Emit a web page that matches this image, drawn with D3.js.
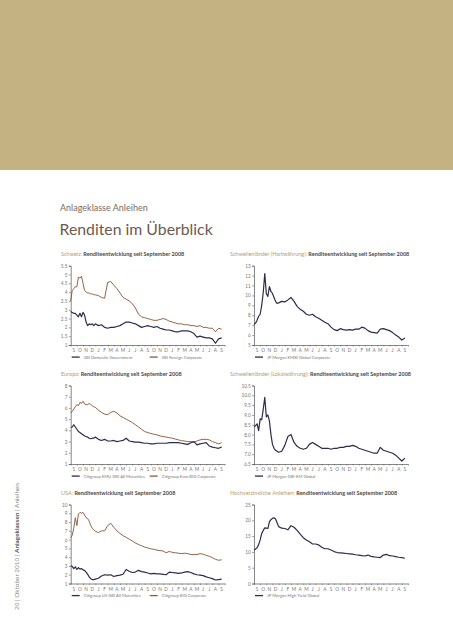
<!DOCTYPE html>
<html><head><meta charset="utf-8">
<script src="https://cdn.jsdelivr.net/npm/d3@7"></script>
<style>html,body{margin:0;padding:0;background:#fff;}svg{display:block;font-family:Lato,"Open Sans",sans-serif;}</style>
</head><body>
<script>
// ---- DATA ----
// time in months since start of September 2008
const tMonths = [0,0.25,0.5,0.75,1,1.25,1.5,1.75,2,2.25,2.5,2.75,3,3.25,3.5,3.75,
  4,4.5,5,5.5,6,6.5,7,7.5,8,8.5,9,9.5,10,10.5,11,11.5,12,12.5,13,13.5,14,14.5,15,15.5,16,16.5,17,17.5,18,18.5,19,19.5,20,20.5,21,21.5,22,22.5,23,23.5,24,24.5];
const monthLabels = ["S","O","N","D","J","F","M","A","M","J","J","A","S","O","N","D","J","F","M","A","M","J","J","A","S"];

const chTitles = [
  ["Schweiz:", " Renditeentwicklung seit September 2008"],
  ["Schwellenländer (Hartwährung):", " Renditeentwicklung seit September 2008"],
  ["Europa:", " Renditeentwicklung seit September 2008"],
  ["Schwellenländer (Lokalwährung):", " Renditeentwicklung seit September 2008"],
  ["USA:", " Renditeentwicklung seit September 2008"],
  ["Hochverzinsliche Anleihen:", " Renditeentwicklung seit September 2008"]
];

// Schweiz
const sbiDomesticGov = [2.9,2.85,2.8,2.8,2.7,2.6,2.8,2.6,2.85,2.7,2.3,2.1,2.2,2.15,2.2,2.1,
  2.2,2.1,2.15,2.0,1.95,2.0,2.0,2.05,2.1,2.2,2.3,2.3,2.25,2.2,2.1,2.0,2.05,2.1,2.05,2.0,2.05,1.95,1.9,1.85,1.85,1.8,1.75,1.75,1.8,1.8,1.8,1.75,1.65,1.45,1.5,1.45,1.4,1.4,1.35,1.1,1.35,1.4];
const sbiForeignCorp = [3.5,4.1,4.2,4.3,4.3,4.85,4.8,4.9,4.5,4.1,4.0,3.95,3.95,3.9,3.9,3.85,
  3.85,3.8,3.7,3.65,4.55,4.6,4.4,4.2,3.95,3.7,3.6,3.5,3.35,3.1,2.75,2.6,2.55,2.5,2.45,2.4,2.4,2.45,2.5,2.45,2.35,2.3,2.25,2.2,2.2,2.15,2.15,2.1,2.1,2.05,2.1,2.0,2.0,1.95,1.95,1.75,1.95,1.9];
const ticksSchweiz = [1,1.5,2,2.5,3,3.5,4,4.5,5,5.5];
const legendSchweiz = ["SBI Domestic Government","SBI Foreign Corporate"];

// Schwellenländer Hartwährung
const embiGlobalCorp = [7.05,7.2,7.5,7.9,8.1,9.0,10.3,12.2,10.2,9.9,10.9,10.4,10.2,9.8,9.4,9.2,
  9.25,9.4,9.35,9.55,9.8,9.4,8.9,8.6,8.4,8.1,8.0,8.1,7.85,7.7,7.5,7.3,7.15,6.8,6.55,6.45,6.65,6.55,6.5,6.55,6.5,6.6,6.6,6.8,6.7,6.45,6.3,6.25,6.2,6.6,6.65,6.55,6.45,6.25,6.0,5.8,5.5,5.7];
const ticksHart = [5,6,7,8,9,10,11,12,13];
const legendHart = ["JP Morgan EMBI Global Corporate"];

// Europa
const emuGbiAll = [4.25,4.3,4.5,4.3,4.1,3.9,3.8,3.7,3.6,3.5,3.45,3.4,3.3,3.25,3.3,3.3,
  3.4,3.2,3.1,3.2,3.05,3.05,3.1,3.0,3.05,3.1,3.3,3.05,3.0,2.95,2.95,2.9,2.85,2.85,2.8,2.8,2.85,2.85,2.85,2.85,2.9,2.9,2.9,2.9,2.85,2.8,2.75,2.9,3.0,2.7,2.8,2.85,2.9,2.6,2.5,2.45,2.4,2.5];
const euroBigCorp = [5.55,5.7,5.9,6.1,6.3,6.2,6.5,6.4,6.6,6.35,6.3,6.3,6.4,6.3,6.2,6.1,
  6.05,5.8,5.6,5.45,5.4,5.6,5.7,5.55,5.3,5.15,5.0,4.85,4.7,4.5,4.3,4.1,3.9,3.8,3.72,3.65,3.6,3.5,3.45,3.4,3.35,3.3,3.22,3.15,3.08,3.05,3.0,3.0,2.95,3.05,3.15,3.2,3.2,3.15,3.0,2.9,2.8,2.9];
const ticksEuropa = [1,2,3,4,5,6,7,8];
const legendEuropa = ["Citigroup EMU GBI All Maturities","Citigroup Euro BIG Corporate"];

// Schwellenländer Lokalwährung
const gbiEmGlobal = [8.4,8.45,8.55,8.2,8.8,8.75,9.3,9.9,8.9,9.0,8.7,8.0,7.5,7.3,7.2,7.15,
  7.1,7.15,7.45,7.9,8.0,7.6,7.4,7.3,7.25,7.3,7.5,7.6,7.5,7.4,7.3,7.3,7.3,7.25,7.3,7.3,7.35,7.35,7.4,7.4,7.45,7.4,7.3,7.25,7.2,7.15,7.1,7.05,7.05,7.35,7.2,7.15,7.1,7.05,6.95,6.8,6.65,6.8];
const ticksLokal = [6.5,7.0,7.5,8.0,8.5,9.0,9.5,10.0,10.5];
const legendLokal = ["JP Morgan GBI-EM Global"];

// USA
const usGbiAll = [3.0,2.95,2.7,2.9,2.6,2.8,2.65,2.7,2.55,2.5,2.3,2.05,1.75,1.55,1.45,1.45,
  1.5,1.6,1.85,2.0,1.95,2.0,1.8,1.9,1.95,2.05,2.6,2.4,2.25,2.3,2.5,2.35,2.3,2.2,2.1,2.15,2.1,2.1,2.05,2.0,2.3,2.25,2.2,2.15,2.2,2.3,2.35,2.25,2.1,2.0,1.95,1.9,1.75,1.65,1.55,1.4,1.45,1.5];
const usBigCorp = [6.2,6.5,7.3,8.5,7.6,8.9,9.1,9.0,9.1,8.8,8.5,8.4,8.1,7.6,7.3,7.1,
  6.95,6.8,7.0,7.0,7.6,7.85,7.4,7.0,6.7,6.45,6.25,6.05,5.85,5.6,5.45,5.3,5.15,5.05,4.95,4.9,4.8,4.75,4.7,4.5,4.65,4.55,4.5,4.45,4.4,4.45,4.4,4.3,4.3,4.3,4.4,4.35,4.2,4.1,3.95,3.75,3.65,3.7];
const ticksUSA = [1,2,3,4,5,6,7,8,9,10];
const legendUSA = ["Citigroup US GBI All Maturities","Citigroup BIG Corporate"];

// Hochverzinsliche Anleihen
const highYieldGlobal = [10.5,10.9,11.3,12.3,13.8,15.8,16.8,17.6,17.5,17.4,19.5,20.2,20.6,20.8,20.4,19.2,
  18.0,17.5,17.4,17.0,18.3,17.8,16.8,15.6,14.5,13.8,13.2,12.5,12.5,12.2,11.5,11.0,11.0,10.6,10.1,9.8,9.7,9.6,9.5,9.4,9.3,9.1,9.0,8.8,8.7,9.0,8.6,8.4,8.3,8.2,9.0,9.2,8.8,8.7,8.5,8.3,8.2,8.0];
const ticksHY = [0,5,10,15,20,25];
const legendHY = ["JP Morgan High Yield Global"];

// ---- LAYOUT / STYLE ----
const W = 453, H = 640;
const COL_NAVY = "#2f2b4d", COL_BROWN = "#8d5b3d", COL_TAN = "#b39c72";
const colX = [70.7, 254];
const colW = 154;
const rowY = [[265.7, 345], [385.5, 464], [504.5, 583.5]];
const titleX = [61, 230];

const charts = [
  {col:0,row:0,title:chTitles[0],series:[sbiDomesticGov,sbiForeignCorp],legend:legendSchweiz,ticks:ticksSchweiz,fmt:d3.format("~g")},
  {col:1,row:0,title:chTitles[1],series:[embiGlobalCorp],legend:legendHart,ticks:ticksHart,fmt:d3.format("d")},
  {col:0,row:1,title:chTitles[2],series:[emuGbiAll,euroBigCorp],legend:legendEuropa,ticks:ticksEuropa,fmt:d3.format("d")},
  {col:1,row:1,title:chTitles[3],series:[gbiEmGlobal],legend:legendLokal,ticks:ticksLokal,fmt:d3.format(".1f")},
  {col:0,row:2,title:chTitles[4],series:[usGbiAll,usBigCorp],legend:legendUSA,ticks:ticksUSA,fmt:d3.format("d")},
  {col:1,row:2,title:chTitles[5],series:[highYieldGlobal],legend:legendHY,ticks:ticksHY,fmt:d3.format("d")}
];

const svg = d3.select("body").append("svg").attr("width", W).attr("height", H);

// header band
svg.append("rect").attr("x",0).attr("y",0).attr("width",W).attr("height",170).attr("fill","#c4b282");
svg.append("text").attr("x",60).attr("y",211).attr("font-size",9).attr("fill","#7d6a5c").text("Anlageklasse Anleihen");
svg.append("text").attr("x",59.5).attr("y",235).attr("font-size",15.8).attr("fill","#6f5a4f").text("Renditen im Überblick");

// vertical side text
const side = svg.append("text").attr("transform","translate(19,610) rotate(-90)").attr("font-size",6.4).attr("fill","#8a8a8a");
side.append("tspan").text("20  |  Oktober 2010  |  ");
side.append("tspan").attr("font-weight","bold").attr("fill","#555").text("Anlageklassen");
side.append("tspan").text("  |  Anleihen");

charts.forEach(c => {
  const x0 = colX[c.col], [yTop, yBot] = rowY[c.row];
  const g = svg.append("g");
  const x = d3.scaleLinear().domain([0, monthLabels.length]).range([x0, x0 + colW]);
  const y = d3.scaleLinear().domain([c.ticks[0], c.ticks[c.ticks.length-1]]).range([yBot, yTop]);

  // title
  const t = g.append("text").attr("x", titleX[c.col]).attr("y", yTop - 10).attr("font-size", 5.5);
  t.append("tspan").attr("fill", COL_TAN).text(c.title[0]);
  t.append("tspan").attr("fill", "#4a4a4a").attr("font-weight", "bold").text(c.title[1]);

  // y axis
  const ya = g.append("g").attr("transform", `translate(${x0},0)`)
    .call(d3.axisLeft(y).tickValues(c.ticks).tickFormat(c.fmt).tickSize(1.8).tickPadding(1.5));
  ya.select(".domain").attr("stroke", "#555").attr("stroke-width", 0.7);
  ya.selectAll(".tick line").attr("stroke", "#555").attr("stroke-width", 0.6);
  ya.selectAll(".tick text").attr("font-size", 4.7).attr("fill", "#777").attr("font-family", "Lato");

  // x axis
  const xa = g.append("g").attr("transform", `translate(0,${yBot})`)
    .call(d3.axisBottom(x).tickValues(d3.range(0, monthLabels.length + 1)).tickFormat("").tickSize(1.5).tickSizeOuter(0));
  xa.select(".domain").attr("stroke", "#555").attr("stroke-width", 0.7);
  xa.selectAll(".tick line").attr("stroke", "#555").attr("stroke-width", 0.5);
  g.selectAll(".mlab").data(monthLabels).enter().append("text")
    .attr("x", (d, i) => x(i + 0.5)).attr("y", yBot + 7.2)
    .attr("text-anchor", "middle").attr("font-size", 4.8).attr("fill", "#777").text(d => d);

  // lines
  const line = d3.line().x((d, i) => x(tMonths[i])).y(d => y(d));
  const cols = c.series.length === 2 ? [COL_NAVY, COL_BROWN] : [COL_NAVY];
  c.series.slice().reverse().forEach((s, k) => {
    const idx = c.series.length - 1 - k;
    g.append("path").datum(s).attr("d", line).attr("fill", "none")
      .attr("stroke", cols[idx]).attr("stroke-width", idx === 0 ? 1.2 : 0.95).attr("stroke-linejoin", "round");
  });

  // legend
  c.legend.forEach((lab, i) => {
    const lx = x0 + 1 + i * 78;
    const ly = yBot + 13.5;
    g.append("line").attr("x1", lx).attr("x2", lx + 8).attr("y1", ly - 1.4).attr("y2", ly - 1.4)
      .attr("stroke", cols[i]).attr("stroke-width", 1.3);
    g.append("text").attr("x", lx + 12).attr("y", ly).attr("font-size", 4.2).attr("fill", "#777").text(lab);
  });
});
</script>
</body></html>
